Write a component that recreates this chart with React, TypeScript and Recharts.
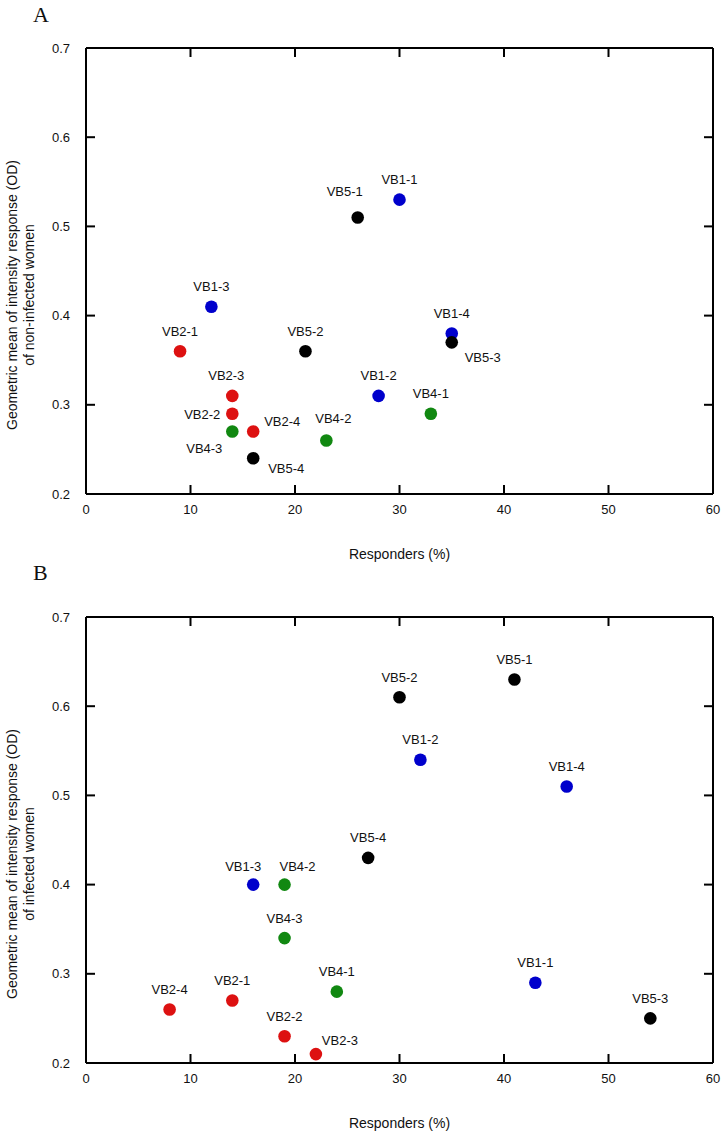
import React from 'react';
import { ScatterChart, Scatter, XAxis, YAxis } from 'recharts';

// Panel A: non-infected women
const vb1A = [
  { name: 'VB1-1', x: 30, y: 0.53 },
  { name: 'VB1-2', x: 28, y: 0.31 },
  { name: 'VB1-3', x: 12, y: 0.41 },
  { name: 'VB1-4', x: 35, y: 0.38 },
];
const vb2A = [
  { name: 'VB2-1', x: 9, y: 0.36 },
  { name: 'VB2-2', x: 14, y: 0.29 },
  { name: 'VB2-3', x: 14, y: 0.31 },
  { name: 'VB2-4', x: 16, y: 0.27 },
];
const vb4A = [
  { name: 'VB4-1', x: 33, y: 0.29 },
  { name: 'VB4-2', x: 23, y: 0.26 },
  { name: 'VB4-3', x: 14, y: 0.27 },
];
const vb5A = [
  { name: 'VB5-1', x: 26, y: 0.51 },
  { name: 'VB5-2', x: 21, y: 0.36 },
  { name: 'VB5-3', x: 35, y: 0.37 },
  { name: 'VB5-4', x: 16, y: 0.24 },
];

// Panel B: infected women
const vb1B = [
  { name: 'VB1-1', x: 43, y: 0.29 },
  { name: 'VB1-2', x: 32, y: 0.54 },
  { name: 'VB1-3', x: 16, y: 0.4 },
  { name: 'VB1-4', x: 46, y: 0.51 },
];
const vb2B = [
  { name: 'VB2-1', x: 14, y: 0.27 },
  { name: 'VB2-2', x: 19, y: 0.23 },
  { name: 'VB2-3', x: 22, y: 0.21 },
  { name: 'VB2-4', x: 8, y: 0.26 },
];
const vb4B = [
  { name: 'VB4-1', x: 24, y: 0.28 },
  { name: 'VB4-2', x: 19, y: 0.4 },
  { name: 'VB4-3', x: 19, y: 0.34 },
];
const vb5B = [
  { name: 'VB5-1', x: 41, y: 0.63 },
  { name: 'VB5-2', x: 30, y: 0.61 },
  { name: 'VB5-3', x: 54, y: 0.25 },
  { name: 'VB5-4', x: 27, y: 0.43 },
];

const xTicks = [0, 10, 20, 30, 40, 50, 60];
const yTicks = [0.2, 0.3, 0.4, 0.5, 0.6, 0.7];
const X_MIN = 0, X_MAX = 60, Y_MIN = 0.2, Y_MAX = 0.7;

const COLORS = { vb1: '#0000cc', vb2: '#dd1111', vb4: '#118811', vb5: '#000000' };
const FONT = '"Liberation Sans", Arial, Helvetica, sans-serif';

// inner tick marks on all four sides of the frame, placed at the tick values
const innerX = xTicks.slice(1, -1);
const innerY = yTicks.slice(1, -1);
const frameTicks = [
  ...innerX.map((v) => ({ x: v, y: Y_MIN, dir: 'up' })),
  ...innerX.map((v) => ({ x: v, y: Y_MAX, dir: 'down' })),
  ...innerY.map((v) => ({ x: X_MIN, y: v, dir: 'right' })),
  ...innerY.map((v) => ({ x: X_MAX, y: v, dir: 'left' })),
];

// label placement relative to the dot: [dx, dy, anchor]
type Off = [number, number, 'start' | 'middle' | 'end'];
const offsetsA: Record<string, Off> = {
  'VB5-1': [-13, -26, 'middle'],
  'VB2-3': [-6, -20, 'middle'],
  'VB2-2': [-12, 1, 'end'],
  'VB4-3': [-28, 17, 'middle'],
  'VB2-4': [29, -10, 'middle'],
  'VB5-4': [33, 10, 'middle'],
  'VB4-2': [7, -22, 'middle'],
  'VB5-3': [31, 15, 'middle'],
};
const offsetsB: Record<string, Off> = {
  'VB2-3': [24, -14, 'middle'],
  'VB1-3': [-10, -18, 'middle'],
  'VB4-2': [13, -18, 'middle'],
};

const makeDot = (color: string, offsets: Record<string, Off>) => (props: any) => {
  const { cx, cy, payload } = props;
  const off: Off = offsets[payload.name] || [0, -20, 'middle'];
  return (
    <g>
      <circle cx={cx} cy={cy} r={6.3} fill={color} />
      <text
        x={cx + off[0]}
        y={cy + off[1]}
        dy="0.35em"
        textAnchor={off[2]}
        fontSize={13}
        fontFamily={FONT}
        fill="#111"
      >
        {payload.name}
      </text>
    </g>
  );
};

const TickMark = (props: any) => {
  const { cx, cy, payload } = props;
  const L = 9;
  let x2 = cx, y2 = cy;
  if (payload.dir === 'up') y2 = cy - L;
  else if (payload.dir === 'down') y2 = cy + L;
  else if (payload.dir === 'right') x2 = cx + L;
  else x2 = cx - L;
  return <line x1={cx} y1={cy} x2={x2} y2={y2} stroke="#000" strokeWidth={2} />;
};

const axisLine = { stroke: '#000', strokeWidth: 2 };
const tickStyle = { fontSize: 13, fontFamily: FONT, fill: '#111' };

interface PanelProps {
  top: number;
  height: number;
  marginTop: number;
  subtitle: string;
  vb1: any[];
  vb2: any[];
  vb4: any[];
  vb5: any[];
  offsets: Record<string, Off>;
}

const Panel: React.FC<PanelProps> = ({ top, height, marginTop, subtitle, vb1, vb2, vb4, vb5, offsets }) => {
  const xAxisHeight = height - marginTop - 1 - 446;
  return (
    <div style={{ position: 'absolute', left: 0, top, width: 725, height }}>
      <ScatterChart width={725} height={height} margin={{ top: marginTop, right: 11, bottom: 0, left: 0 }}>
        <XAxis
          xAxisId="b"
          type="number"
          dataKey="x"
          domain={[X_MIN, X_MAX]}
          ticks={xTicks}
          height={xAxisHeight}
          tickSize={0}
          tickMargin={11}
          tickLine={false}
          axisLine={axisLine}
          tick={tickStyle}
          label={{
            value: 'Responders (%)',
            position: 'insideTop',
            offset: 55,
            fontSize: 14,
            fontFamily: FONT,
            fill: '#111',
          }}
        />
        <XAxis
          xAxisId="t"
          orientation="top"
          type="number"
          dataKey="x"
          domain={[X_MIN, X_MAX]}
          ticks={xTicks}
          height={1}
          tickLine={false}
          axisLine={axisLine}
          tick={false}
        />
        <YAxis
          yAxisId="l"
          type="number"
          dataKey="y"
          domain={[Y_MIN, Y_MAX]}
          ticks={yTicks}
          width={86}
          tickSize={0}
          tickMargin={16}
          tickLine={false}
          axisLine={axisLine}
          tick={tickStyle}
          tickFormatter={(v: number) => v.toFixed(1)}
          label={{
            content: (p: any) => {
              const vb = p.viewBox;
              const cy = vb.y + vb.height / 2 + 24;
              return (
                <g fontFamily={FONT} fontSize={14} fill="#111">
                  <text x={12} y={cy} textAnchor="middle" dy="0.35em" transform={`rotate(-90 12 ${cy})`}>
                    Geometric mean of intensity response (OD)
                  </text>
                  <text x={29} y={cy} textAnchor="middle" dy="0.35em" transform={`rotate(-90 29 ${cy})`}>
                    {subtitle}
                  </text>
                </g>
              );
            },
          }}
        />
        <YAxis
          yAxisId="r"
          orientation="right"
          type="number"
          dataKey="y"
          domain={[Y_MIN, Y_MAX]}
          ticks={yTicks}
          width={1}
          tickLine={false}
          axisLine={axisLine}
          tick={false}
        />
        <Scatter xAxisId="b" yAxisId="l" data={frameTicks} isAnimationActive={false} shape={TickMark} legendType="none" />
        <Scatter xAxisId="b" yAxisId="l" data={vb1} isAnimationActive={false} shape={makeDot(COLORS.vb1, offsets)} />
        <Scatter xAxisId="b" yAxisId="l" data={vb2} isAnimationActive={false} shape={makeDot(COLORS.vb2, offsets)} />
        <Scatter xAxisId="b" yAxisId="l" data={vb4} isAnimationActive={false} shape={makeDot(COLORS.vb4, offsets)} />
        <Scatter xAxisId="b" yAxisId="l" data={vb5} isAnimationActive={false} shape={makeDot(COLORS.vb5, offsets)} />
      </ScatterChart>
    </div>
  );
};

const letterStyle: React.CSSProperties = {
  position: 'absolute',
  left: 33,
  fontFamily: '"Liberation Serif", "Times New Roman", serif',
  fontSize: 22,
  lineHeight: '22px',
  color: '#111',
};

export default function App() {
  return (
    <div style={{ position: 'absolute', left: 0, top: 0, width: 725, height: 1138, background: '#fff' }}>
      <Panel top={0} height={570} marginTop={47} subtitle="of non-infected women" vb1={vb1A} vb2={vb2A} vb4={vb4A} vb5={vb5A} offsets={offsetsA} />
      <Panel top={570} height={568} marginTop={46} subtitle="of infected women" vb1={vb1B} vb2={vb2B} vb4={vb4B} vb5={vb5B} offsets={offsetsB} />
      <div style={{ ...letterStyle, top: 4 }}>A</div>
      <div style={{ ...letterStyle, top: 562 }}>B</div>
    </div>
  );
}
